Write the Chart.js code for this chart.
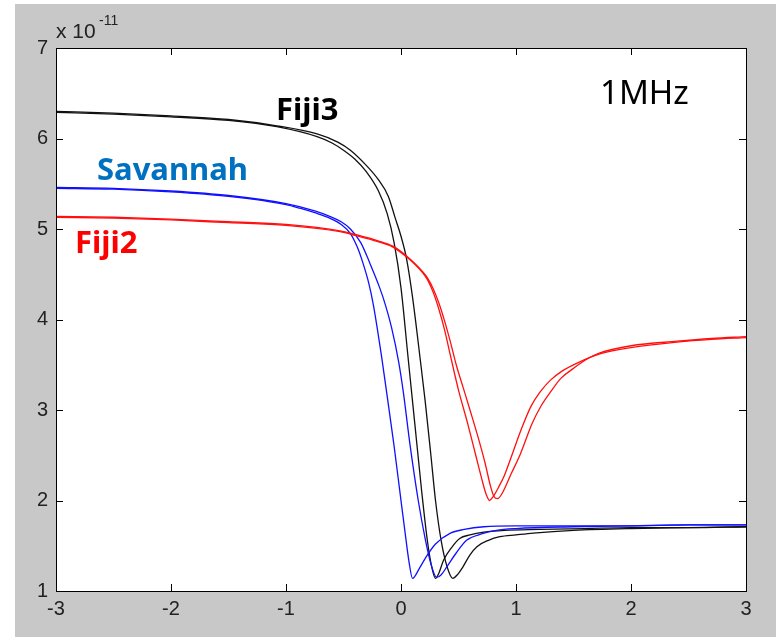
<!DOCTYPE html>
<html>
<head>
<meta charset="utf-8">
<script src="https://cdn.jsdelivr.net/npm/chart.js@4.4.1/dist/chart.umd.min.js"></script>
<style>
  html, body { margin: 0; padding: 0; background: #ffffff; }
  #wrap { position: absolute; left: 15px; top: 4px; width: 761px; height: 633px; background: #c8c8c8; }
  #chart { position: absolute; left: 0; top: 0; }
</style>
</head>
<body>
<div id="wrap"></div>
<canvas id="chart" width="776" height="637"></canvas>
<script>
// Tick labels
const xTicks = [-3, -2, -1, 0, 1, 2, 3];
const yTicks = [1, 2, 3, 4, 5, 6, 7];

// Fiji3 (black), two sweeps
const fiji3Ax = [-3, -2.5, -2, -1.5, -1.08, -0.73, -0.6, -0.5, -0.4, -0.3, -0.2, -0.12, -0.06, 0.0, 0.06, 0.12, 0.18, 0.23, 0.27, 0.30, 0.33, 0.37, 0.44, 0.51, 0.6, 0.72, 0.9, 1.2, 1.6, 2, 2.5, 3];
const fiji3Ay = [6.29, 6.27, 6.24, 6.20, 6.13, 6.02, 5.95, 5.87, 5.77, 5.63, 5.43, 5.17, 4.85, 4.35, 3.6, 2.85, 2.1, 1.55, 1.25, 1.14, 1.2, 1.34, 1.48, 1.58, 1.62, 1.65, 1.67, 1.68, 1.69, 1.70, 1.70, 1.71];
const fiji3Bx = [-3, -2.5, -2, -1.5, -1.08, -0.73, -0.55, -0.44, -0.3, -0.2, -0.11, -0.05, 0.0, 0.05, 0.10, 0.17, 0.21, 0.26, 0.30, 0.35, 0.40, 0.45, 0.49, 0.54, 0.6, 0.66, 0.76, 0.86, 1.0, 1.15, 1.5, 2, 2.5, 3];
const fiji3By = [6.30, 6.28, 6.25, 6.21, 6.14, 6.05, 5.96, 5.87, 5.70, 5.55, 5.36, 5.12, 4.92, 4.66, 4.25, 3.53, 3.1, 2.5, 2.0, 1.55, 1.27, 1.14, 1.18, 1.27, 1.4, 1.49, 1.56, 1.6, 1.62, 1.64, 1.67, 1.69, 1.70, 1.71];

// Savannah (blue), two sweeps
const savAx = [-3, -2.5, -2, -1.5, -1, -0.88, -0.75, -0.62, -0.52, -0.44, -0.38, -0.33, -0.28, -0.24, -0.17, -0.12, -0.06, -0.01, 0.04, 0.07, 0.10, 0.16, 0.22, 0.3, 0.43, 0.55, 0.72, 1.0, 1.5, 2, 2.5, 3];
const savAy = [5.45, 5.44, 5.41, 5.36, 5.27, 5.23, 5.18, 5.12, 5.05, 4.95, 4.8, 4.62, 4.4, 4.16, 3.6, 3.15, 2.6, 2.1, 1.6, 1.32, 1.14, 1.25, 1.38, 1.52, 1.64, 1.68, 1.71, 1.72, 1.72, 1.72, 1.73, 1.73];
const savBx = [-3, -2.5, -2, -1.5, -1, -0.75, -0.62, -0.52, -0.44, -0.35, -0.27, -0.2, -0.15, -0.08, -0.02, 0.02, 0.08, 0.15, 0.21, 0.26, 0.31, 0.35, 0.40, 0.48, 0.57, 0.7, 0.83, 1.0, 1.5, 2, 2.5, 3];
const savBy = [5.46, 5.45, 5.42, 5.37, 5.28, 5.2, 5.14, 5.08, 5.0, 4.85, 4.62, 4.4, 4.22, 3.9, 3.53, 3.2, 2.6, 2.0, 1.58, 1.3, 1.15, 1.18, 1.27, 1.42, 1.56, 1.63, 1.67, 1.69, 1.71, 1.72, 1.73, 1.73];

// Fiji2 (red), two sweeps
const fiji2Ax = [-3, -2.5, -2, -1.5, -1, -0.53, -0.4, -0.2, -0.07, 0.05, 0.12, 0.18, 0.23, 0.28, 0.33, 0.38, 0.43, 0.5, 0.58, 0.65, 0.7, 0.74, 0.77, 0.8, 0.85, 0.9, 0.95, 1.05, 1.13, 1.21, 1.3, 1.4, 1.55, 1.73, 2.0, 2.4, 2.7, 3];
const fiji2Ay = [5.13, 5.12, 5.10, 5.07, 5.04, 4.97, 4.93, 4.86, 4.80, 4.69, 4.61, 4.53, 4.44, 4.30, 4.11, 3.88, 3.6, 3.22, 2.85, 2.5, 2.25, 2.07, 2.0, 2.04, 2.15, 2.28, 2.45, 2.8, 3.04, 3.2, 3.33, 3.43, 3.53, 3.62, 3.69, 3.75, 3.78, 3.80];
const fiji2Bx = [-3, -2.5, -2, -1.5, -1, -0.53, -0.4, -0.2, -0.07, 0.05, 0.12, 0.18, 0.23, 0.28, 0.33, 0.38, 0.43, 0.48, 0.54, 0.6, 0.67, 0.73, 0.78, 0.81, 0.84, 0.88, 0.96, 1.04, 1.14, 1.22, 1.30, 1.39, 1.5, 1.6, 1.73, 2.0, 2.4, 2.7, 3];
const fiji2By = [5.14, 5.13, 5.11, 5.08, 5.05, 4.98, 4.94, 4.87, 4.81, 4.70, 4.62, 4.54, 4.46, 4.34, 4.18, 3.98, 3.75, 3.5, 3.25, 3.0, 2.7, 2.42, 2.15, 2.04, 2.02, 2.08, 2.3, 2.52, 2.85, 3.05, 3.2, 3.35, 3.46, 3.55, 3.63, 3.71, 3.76, 3.79, 3.81];

const BLACK = '#111111';
const BLUE = '#1010ff';
const RED = '#ff1010';

function pts(xs, ys) {
  return xs.map((x, i) => ({ x: x, y: ys[i] }));
}

function series(xs, ys, color) {
  return {
    data: pts(xs, ys),
    borderColor: color,
    borderWidth: 1.3,
    pointRadius: 0,
    showLine: true,
    fill: false,
    cubicInterpolationMode: 'monotone'
  };
}

// Box, inward ticks and the text on the plot
const decorations = {
  id: 'decorations',
  afterDraw(chart) {
    const c = chart.ctx;
    const a = chart.chartArea;
    const xs = chart.scales.x;
    const ys = chart.scales.y;
    c.save();
    c.strokeStyle = '#000000';
    c.lineWidth = 1;
    c.strokeRect(Math.round(a.left) + 0.5, Math.round(a.top) + 0.5, Math.round(a.right - a.left), Math.round(a.bottom - a.top));

    c.beginPath();
    xTicks.forEach(v => {
      const px = Math.round(xs.getPixelForValue(v)) + 0.5;
      c.moveTo(px, a.bottom); c.lineTo(px, a.bottom - 7);
      c.moveTo(px, a.top); c.lineTo(px, a.top + 7);
    });
    yTicks.forEach(v => {
      const py = Math.round(ys.getPixelForValue(v)) + 0.5;
      c.moveTo(a.left, py); c.lineTo(a.left + 7, py);
      c.moveTo(a.right, py); c.lineTo(a.right - 7, py);
    });
    c.stroke();

    // exponent label
    c.fillStyle = '#222222';
    c.textBaseline = 'alphabetic';
    c.textAlign = 'left';
    c.font = '21px "Liberation Sans", Arial, sans-serif';
    c.fillText('x 10', 56, 38);
    c.font = '14px "Liberation Sans", Arial, sans-serif';
    c.fillText('-11', 99, 25);

    // curve names
    c.font = 'bold 31px "Noto Sans", sans-serif';
    c.fillStyle = '#000000';
    c.fillText('Fiji3', 276, 120);
    c.fillStyle = '#0070c0';
    c.fillText('Savannah', 97, 180);
    c.fillStyle = '#ff0000';
    c.fillText('Fiji2', 75, 253);

    c.font = '33px "Noto Sans", sans-serif';
    c.fillStyle = '#000000';
    c.fillText('1MHz', 600, 104);
    c.restore();
  }
};

const plotBg = {
  id: 'plotBg',
  beforeDraw(chart) {
    const a = chart.chartArea;
    chart.ctx.save();
    chart.ctx.fillStyle = '#ffffff';
    chart.ctx.fillRect(a.left, a.top, a.right - a.left, a.bottom - a.top);
    chart.ctx.restore();
  }
};

const tickFont = { family: '"Liberation Sans", Arial, sans-serif', size: 20 };

new Chart(document.getElementById('chart'), {
  type: 'scatter',
  data: {
    datasets: [
      series(fiji2Ax, fiji2Ay, RED),
      series(fiji2Bx, fiji2By, RED),
      series(savAx, savAy, BLUE),
      series(savBx, savBy, BLUE),
      series(fiji3Ax, fiji3Ay, BLACK),
      series(fiji3Bx, fiji3By, BLACK)
    ]
  },
  options: {
    responsive: false,
    animation: false,
    devicePixelRatio: 1,
    layout: { padding: { left: 0, right: 30, top: 48, bottom: 0 } },
    plugins: {
      legend: { display: false },
      tooltip: { enabled: false }
    },
    scales: {
      x: {
        type: 'linear',
        min: -3,
        max: 3,
        afterBuildTicks: (axis) => { axis.ticks = xTicks.map(v => ({ value: v })); },
        afterFit: (axis) => { axis.height = 46; },
        grid: { display: false, drawTicks: false },
        border: { display: false },
        ticks: { color: '#222222', font: tickFont, padding: 6, maxRotation: 0 }
      },
      y: {
        type: 'linear',
        min: 1,
        max: 7,
        afterBuildTicks: (axis) => { axis.ticks = yTicks.map(v => ({ value: v })); },
        afterFit: (axis) => { axis.width = 56; },
        grid: { display: false, drawTicks: false },
        border: { display: false },
        ticks: { color: '#222222', font: tickFont, padding: 8 }
      }
    }
  },
  plugins: [plotBg, decorations]
});
</script>
</body>
</html>
